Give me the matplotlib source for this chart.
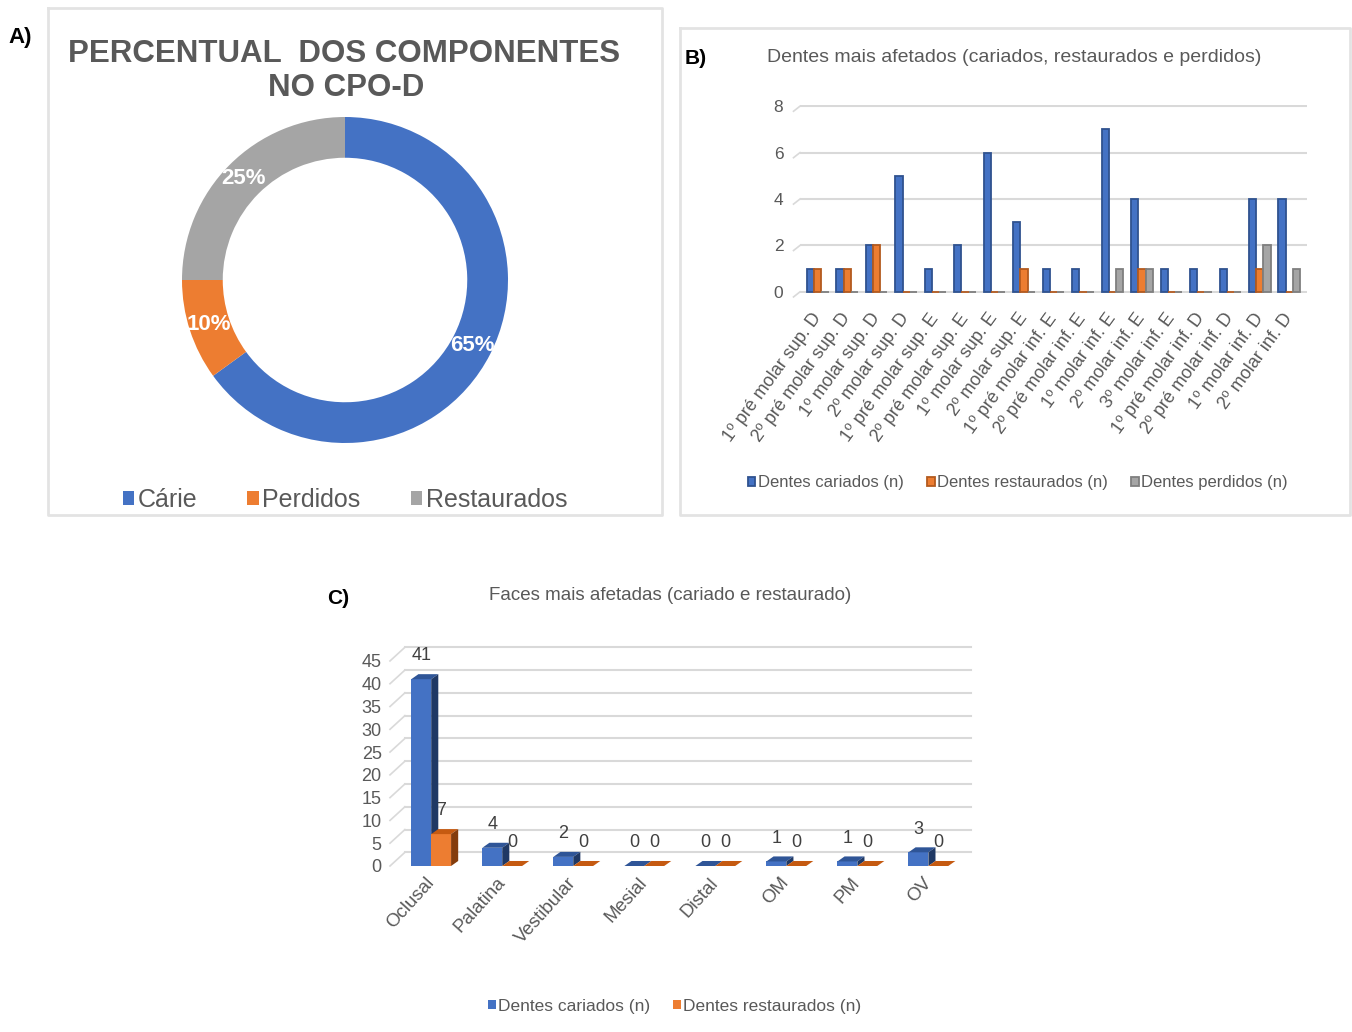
import matplotlib
matplotlib.use("Agg")
import matplotlib.pyplot as plt
from matplotlib.patches import Polygon
from matplotlib.lines import Line2D

W, H = 1352, 1032

# A) components of the CPO-D index (%)
cpod_labels = ["Cárie", "Perdidos", "Restaurados"]
cpod_pct = [65, 10, 25]

# B) most affected teeth
teeth = [
    "1º pré molar sup. D", "2º pré molar sup. D", "1º molar sup. D", "2º molar sup. D",
    "1º pré molar sup. E", "2º pré molar sup. E", "1º molar sup. E", "2º molar sup. E",
    "1º pré molar inf. E", "2º pré molar inf. E", "1º molar inf. E", "2º molar inf. E",
    "3º molar inf. E", "1º pré molar inf. D", "2º pré molar inf. D", "1º molar inf. D",
    "2º molar inf. D",
]
teeth_cariados = [1, 1, 2, 5, 1, 2, 6, 3, 1, 1, 7, 4, 1, 1, 1, 4, 4]
teeth_restaurados = [1, 1, 2, 0, 0, 0, 0, 1, 0, 0, 0, 1, 0, 0, 0, 1, 0]
teeth_perdidos = [0, 0, 0, 0, 0, 0, 0, 0, 0, 0, 1, 1, 0, 0, 0, 2, 1]

# C) most affected faces
faces = ["Oclusal", "Palatina", "Vestibular", "Mesial", "Distal", "OM", "PM", "OV"]
faces_cariados = [41, 4, 2, 0, 0, 1, 1, 3]
faces_restaurados = [7, 0, 0, 0, 0, 0, 0, 0]

BLUE, ORANGE, GRAY = "#4472C4", "#ED7D31", "#A5A5A5"
TXT = "#595959"
FONT = "Liberation Sans"

plt.rcParams["font.family"] = [FONT, "DejaVu Sans"]


def px_axes(fig, left, top, right, bottom, **kw):
    return fig.add_axes([left / W, 1 - bottom / H, (right - left) / W, (bottom - top) / H], **kw)


fig = plt.figure(figsize=(W / 100, H / 100), dpi=100)
fig.patch.set_facecolor("white")

# pixel-space layer for frames, panel letters and titles
bg = px_axes(fig, 0, 0, W, H)
bg.set_xlim(0, W)
bg.set_ylim(H, 0)
bg.axis("off")
for (l, t, r, b) in [(48, 8, 662, 515), (680, 28, 1350, 515)]:
    bg.plot([l, l, r, r, l], [t, b, b, t, t], color="#E3E3E3", lw=2)
bg.text(8, 38, "A)", fontsize=16, fontweight="bold", va="center")
bg.text(685, 58, "B)", fontsize=15, fontweight="bold", va="center")
bg.text(327, 598, "C)", fontsize=15, fontweight="bold", va="center")

# ---- A: donut ----
bg.text(344, 54, "PERCENTUAL  DOS COMPONENTES", fontsize=22.5, fontweight="bold",
        color=TXT, ha="center", va="center")
bg.text(346, 88, "NO CPO-D", fontsize=22.5, fontweight="bold",
        color=TXT, ha="center", va="center")

ax_a = px_axes(fig, 182, 117, 508, 443)
wedges, _, autotexts = ax_a.pie(
    cpod_pct, colors=[BLUE, ORANGE, GRAY], startangle=90, counterclock=False,
    radius=1, wedgeprops=dict(width=0.25, edgecolor="none"),
    autopct="%d%%", pctdistance=0.88,
    textprops=dict(color="white", fontsize=16, fontweight="bold"),
)
ax_a.set_xlim(-1, 1)
ax_a.set_ylim(-1, 1)
ax_a.set_aspect("equal")
ax_a.legend(wedges, cpod_labels, loc="center", bbox_to_anchor=(0.5, -0.175),
            ncol=3, frameon=False, handlelength=0.45, handleheight=0.45,
            handletextpad=0.15, columnspacing=2.0,
            prop=dict(size=18), labelcolor=TXT)

# ---- B: grouped bars ----
ax_b = px_axes(fig, 800, 105, 1307, 293)
xb = list(range(len(teeth)))
bw = 0.245
series_b = [
    (teeth_cariados, BLUE, "#2F528F", "Dentes cariados (n)"),
    (teeth_restaurados, ORANGE, "#B35A1F", "Dentes restaurados (n)"),
    (teeth_perdidos, GRAY, "#7F7F7F", "Dentes perdidos (n)"),
]
for i, (vals, fc, ec, lab) in enumerate(series_b):
    ax_b.bar([x + (i - 1) * bw for x in xb], vals, width=bw, color=fc,
             edgecolor=ec, linewidth=1.3, label=lab, zorder=3)
ax_b.set_xlim(-0.6, 16.6)
ax_b.set_ylim(-0.05, 8.05)
ax_b.set_yticks([0, 2, 4, 6, 8])
ax_b.grid(axis="y", color="#D9D9D9", lw=1.5, zorder=0)
for s in ax_b.spines.values():
    s.set_visible(False)
for v in [0, 2, 4, 6, 8]:
    ax_b.add_line(Line2D([-0.82, -0.6], [v - 0.22, v], color="#D9D9D9", lw=1.2,
                         clip_on=False))
ax_b.tick_params(axis="y", length=0, pad=12, labelcolor=TXT, labelsize=12.5)
ax_b.tick_params(axis="x", length=0, pad=16, labelcolor=TXT, labelsize=13)
ax_b.set_xticks(xb)
ax_b.set_xticklabels(teeth, rotation=54, ha="right", va="center", rotation_mode="anchor")
bg.text(1014, 58, "Dentes mais afetados (cariados, restaurados e perdidos)",
        fontsize=14, color=TXT, ha="center", va="center")
ax_b.legend(loc="center", bbox_to_anchor=(0.43, -1.01), ncol=3, frameon=False,
            handlelength=0.45, handleheight=0.45, handletextpad=0.15, columnspacing=1.4,
            prop=dict(size=12), labelcolor=TXT)

# ---- C: pseudo-3D bars ----
ax_c = px_axes(fig, 390, 640, 971, 866)
xc = list(range(len(faces)))
cw, ddx, ddy = 0.28, 0.10, 1.1
wall_dx, wall_dy = 0.21, 3.0
ax_c.set_xlim(-0.58, 7.6)
ax_c.set_ylim(0, 49.6)
yt = list(range(0, 50, 5))
ax_c.set_yticks(yt)
for v in yt:
    ax_c.add_line(Line2D([-0.58 + wall_dx, 7.6], [v + wall_dy] * 2, color="#D9D9D9", lw=1.5,
                         zorder=0, clip_on=False))
    ax_c.add_line(Line2D([-0.58, -0.58 + wall_dx], [v, v + wall_dy], color="#D9D9D9", lw=1.2,
                         zorder=0, clip_on=False))
for s in ax_c.spines.values():
    s.set_visible(False)

series_c = [
    (faces_cariados, -cw, BLUE, "#2F5597", "#1F3864", "Dentes cariados (n)"),
    (faces_restaurados, 0.0, ORANGE, "#C55A11", "#843C0C", "Dentes restaurados (n)"),
]
for vals, off, front, top, side, lab in series_c:
    lefts = [x + off for x in xc]
    ax_c.bar(lefts, vals, width=cw, align="edge", color=front, label=lab, zorder=3)
    for x0, v in zip(lefts, vals):
        x1 = x0 + cw
        ax_c.add_patch(Polygon([(x0, v), (x0 + ddx, v + ddy), (x1 + ddx, v + ddy), (x1, v)],
                               closed=True, facecolor=top, edgecolor="none", zorder=3))
        ax_c.add_patch(Polygon([(x1, 0), (x1 + ddx, ddy), (x1 + ddx, v + ddy), (x1, v)],
                               closed=True, facecolor=side, edgecolor="none", zorder=3))
        ax_c.annotate(str(v), (x0 + cw / 2, v + ddy), xytext=(0, 7), textcoords="offset points",
                      ha="center", va="bottom", fontsize=13, color="#404040")

ax_c.tick_params(axis="y", length=0, pad=6, labelcolor=TXT, labelsize=13)
ax_c.tick_params(axis="x", length=0, pad=10, labelcolor=TXT, labelsize=13.5)
ax_c.set_xticks(xc)
ax_c.set_xticklabels(faces, rotation=48, ha="right", va="center", rotation_mode="anchor")
bg.text(670, 596, "Faces mais afetadas (cariado e restaurado)", fontsize=13.5, color=TXT,
        ha="center", va="center")
ax_c.legend(loc="center", bbox_to_anchor=(0.49, -0.62), ncol=2, frameon=False,
            handlelength=0.45, handleheight=0.45, handletextpad=0.15, columnspacing=1.3,
            prop=dict(size=12.5), labelcolor=TXT)

fig.savefig("out.png", dpi=100)
